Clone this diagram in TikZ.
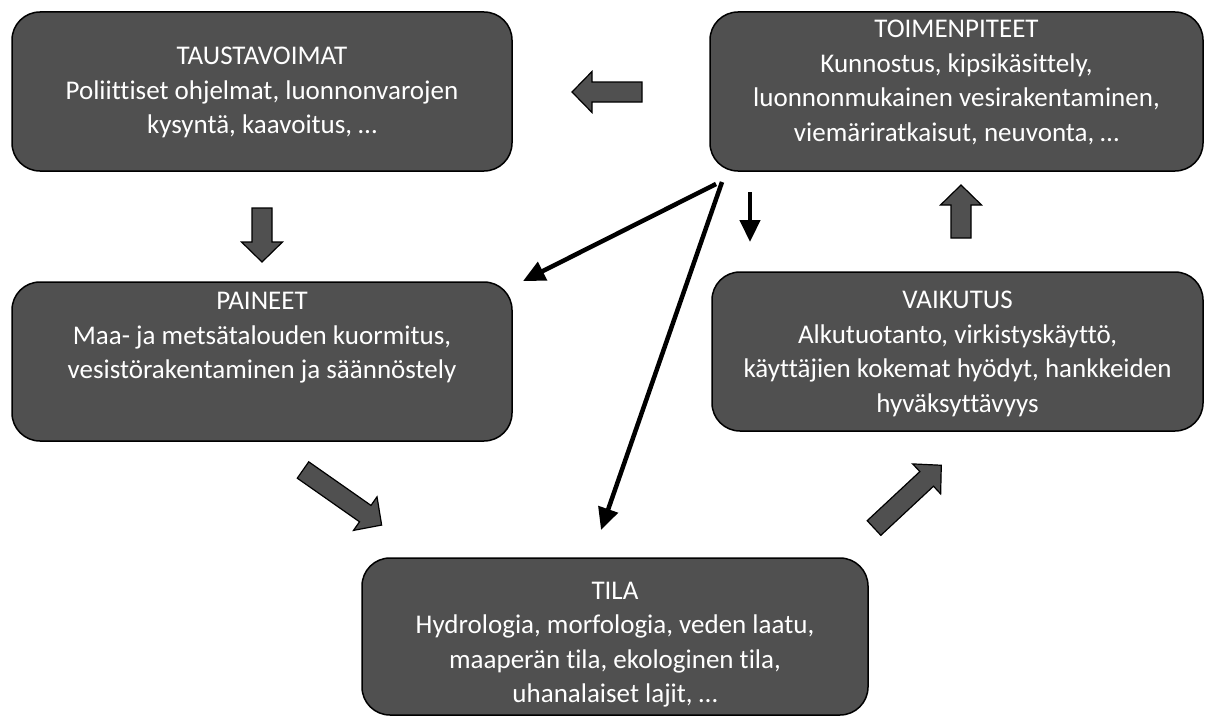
\documentclass[tikz,border=0pt]{standalone}
\usepackage{fontspec}
\setmainfont{Carlito}[Ligatures=NoCommon]
\usetikzlibrary{arrows.meta}
\usetikzlibrary{calc}

\definecolor{boxgray}{HTML}{505050}
\tikzset{
  dpsirbox/.style={draw=black, line width=1.5pt, fill=boxgray, rounded corners=28pt, inner sep=0pt},
  boxtext/.style={text=white, align=center, font=\fontsize{27}{34.5}\selectfont},
  thinarrow/.style={line width=4.5pt, -{Triangle[length=22pt,width=20pt]}},
  pics/blockarr/.style={code={
    \draw[line width=1.2pt, fill=boxgray] (0,-10) -- ({#1-20},-10) -- ({#1-20},-20.5) -- (#1,0)
      -- ({#1-20},20.5) -- ({#1-20},10) -- (0,10) -- cycle;
  }}
}

\begin{document}
\begin{tikzpicture}[x=1pt, y=-1pt]
\useasboundingbox (0,0) rectangle (1206,717);

% the five boxes
\node[dpsirbox, minimum width=500pt, minimum height=159pt] (taustavoimat) at (262,91.5) {};
\node[dpsirbox, minimum width=493pt, minimum height=159pt] (toimenpiteet) at (956.5,91.5) {};
\node[dpsirbox, minimum width=500pt, minimum height=159pt] (paineet) at (262,361.5) {};
\node[dpsirbox, minimum width=491pt, minimum height=159pt] (vaikutus) at (957.5,351.5) {};
\node[dpsirbox, minimum width=506pt, minimum height=157pt] (tila) at (615,636.5) {};

\node[boxtext] (taustavoimat-txt) at ([yshift=-1pt]taustavoimat.center)
  {TAUSTAVOIMAT\\Poliittiset ohjelmat, luonnonvarojen\\kysyntä, kaavoitus, …};
\node[boxtext] (toimenpiteet-txt) at ([yshift=9pt]toimenpiteet.center)
  {TOIMENPITEET\\Kunnostus, kipsikäsittely,\\luonnonmukainen vesirakentaminen,\\viemäriratkaisut, neuvonta, …};
\node[boxtext] (paineet-txt) at ([yshift=23.5pt]paineet.center)
  {PAINEET\\Maa- ja metsätalouden kuormitus,\\vesistörakentaminen ja säännöstely};
\node[boxtext] (vaikutus-txt) at ([yshift=-2.5pt]vaikutus.center)
  {VAIKUTUS\\Alkutuotanto, virkistyskäyttö,\\käyttäjien kokemat hyödyt, hankkeiden\\hyväksyttävyys};
\node[boxtext] (tila-txt) at ([yshift=-8pt]tila.center)
  {TILA\\Hydrologia, morfologia, veden laatu,\\maaperän tila, ekologinen tila,\\uhanalaiset lajit, …};

% block arrows of the cycle
\foreach \px/\py/\ang/\len in {642/92/180/70, 262/208/-90/54, 961/238/90/53,
                               303/470/-35/96, 874/528/43/92} {
  \pic[rotate=\ang] at (\px,\py) {blockarr=\len};
}

% feedback arrows from the measures
\coordinate (s1) at (716,184);
\coordinate (e1) at (523,281);
\coordinate (s2) at (722,182);
\coordinate (e2) at (601,530);
\coordinate (s3) at (750,192);
\coordinate (e3) at (750,242);
\draw[thinarrow] (s1) -- (e1);
\draw[thinarrow] (s2) -- (e2);
\draw[thinarrow] (s3) -- (e3);
\end{tikzpicture}
\end{document}
